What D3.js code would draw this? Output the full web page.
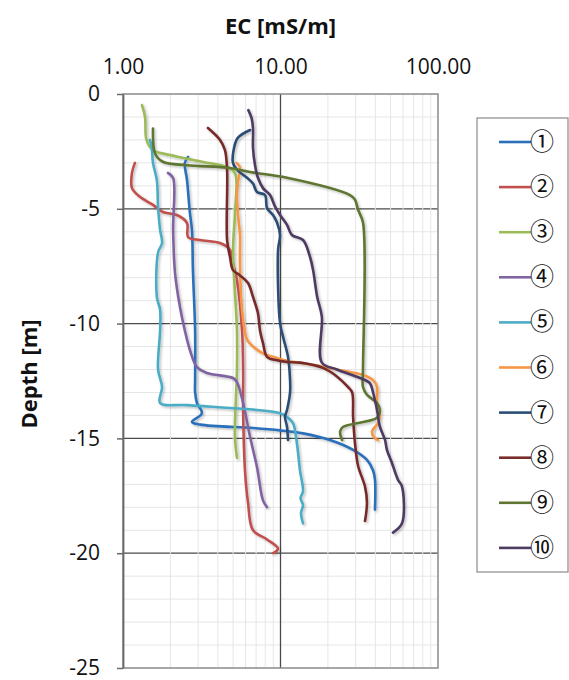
<!DOCTYPE html>
<html>
<head>
<meta charset="utf-8">
<script src="https://cdn.jsdelivr.net/npm/d3@7"></script>
<style>
  body { margin: 0; background: #fff; }
  text { font-family: "Open Sans", "Liberation Sans", sans-serif; fill: #111; }
</style>
</head>
<body>
<div id="chart"></div>
<script>
// EC profiles, each point is [EC mS/m, depth m]
const s1 = [[2.59,-2.74],[2.47,-3.0],[2.55,-3.75],[2.66,-5.18],[2.74,-5.92],[2.78,-7.67],[2.87,-10.3],[2.87,-12.45],[2.87,-13.0],[2.95,-13.46],[3.17,-13.9],[2.74,-14.28],[3.1,-14.4],[6.7,-14.55],[9.9,-14.65],[13.9,-14.78],[20.6,-15.07],[28.9,-15.5],[35.4,-15.94],[38.7,-16.4],[39.8,-16.8],[39.8,-18.1]];
const s2 = [[1.19,-3.0],[1.14,-3.44],[1.14,-4.1],[1.28,-4.48],[1.55,-4.83],[1.79,-5.14],[2.2,-5.27],[2.55,-5.62],[2.59,-6.23],[3.08,-6.36],[4.13,-6.49],[4.78,-6.79],[4.99,-7.36],[5.29,-8.1],[5.7,-10.3],[5.79,-12.0],[5.79,-13.76],[5.95,-16.4],[6.22,-17.8],[6.69,-19.0],[8.21,-19.4],[9.64,-19.8],[8.96,-20.0]];
const s3 = [[1.32,-0.48],[1.38,-1.0],[1.41,-2.0],[1.55,-2.44],[1.99,-2.66],[3.22,-2.96],[4.58,-3.18],[5.14,-3.44],[5.14,-5.2],[5.0,-6.8],[5.29,-10.3],[5.29,-12.0],[5.14,-14.9],[5.29,-15.85]];
const s4 = [[1.93,-3.44],[2.08,-3.66],[2.08,-5.92],[2.14,-7.8],[2.3,-9.28],[2.47,-10.3],[2.66,-11.15],[2.95,-11.9],[3.41,-12.15],[4.99,-12.37],[5.29,-12.55],[5.79,-13.46],[6.41,-14.94],[7.09,-16.25],[7.74,-17.7],[8.21,-18.0]];
const s5 = [[1.48,-2.0],[1.52,-2.3],[1.55,-3.0],[1.64,-3.75],[1.67,-4.92],[1.72,-5.92],[1.77,-6.49],[1.67,-6.9],[1.64,-8.84],[1.72,-9.4],[1.72,-10.3],[1.67,-12.0],[1.77,-12.76],[1.72,-13.46],[2.55,-13.55],[9.93,-13.9],[11.0,-14.07],[12.0,-14.33],[12.7,-15.2],[13.3,-16.4],[13.9,-17.3],[13.4,-17.6],[13.9,-17.9],[13.5,-18.25],[13.9,-18.7]];
const s6 = [[5.27,-3.0],[5.53,-3.2],[5.37,-3.83],[5.29,-4.4],[5.37,-5.27],[5.53,-6.14],[5.53,-7.36],[5.7,-9.4],[6.13,-10.7],[6.69,-11.0],[7.74,-11.3],[9.5,-11.5],[11.5,-11.65],[13.3,-11.7],[22.8,-12.0],[33.4,-12.24],[38.7,-12.46],[41.0,-12.76],[41.0,-13.46],[42.8,-13.9],[41.6,-14.33],[38.1,-14.7],[39.8,-15.0],[41.6,-15.07]];
const s7 = [[6.41,-1.57],[5.37,-1.9],[5.07,-2.35],[4.99,-3.0],[5.29,-3.3],[6.13,-3.65],[6.69,-3.9],[7.09,-4.27],[7.97,-4.4],[8.21,-4.97],[8.96,-5.27],[9.5,-5.6],[9.93,-6.14],[9.65,-6.8],[9.93,-9.97],[10.4,-10.6],[11.16,-11.45],[11.5,-12.45],[11.5,-13.0],[11.0,-13.76],[10.68,-14.06],[11.0,-14.5],[11.16,-15.07]];
const s8 = [[3.46,-1.48],[4.13,-2.0],[4.44,-2.44],[4.58,-3.3],[4.58,-6.36],[4.78,-7.1],[4.99,-7.67],[5.53,-7.9],[6.22,-8.23],[6.69,-8.84],[7.19,-9.54],[7.41,-10.3],[7.74,-10.85],[8.21,-11.45],[9.5,-11.6],[11.0,-11.67],[13.3,-11.7],[18.6,-11.93],[22.8,-12.3],[26.8,-12.76],[28.5,-13.0],[28.9,-14.07],[29.7,-15.2],[31.1,-16.2],[34.4,-17.1],[35.4,-17.8],[34.4,-18.6]];
const s9 = [[1.55,-1.5],[1.6,-2.6],[1.79,-2.95],[2.55,-3.1],[4.78,-3.22],[6.41,-3.4],[11.0,-3.65],[27.6,-4.4],[29.7,-4.6],[31.1,-5.05],[33.4,-5.6],[33.4,-12.0],[33.4,-12.76],[35.4,-13.1],[41.0,-13.46],[42.8,-13.76],[41.0,-14.1],[24.9,-14.5],[23.9,-14.7],[24.6,-15.07]];
const s10 = [[6.25,-0.7],[6.56,-1.06],[6.69,-1.5],[6.69,-2.35],[6.89,-3.1],[7.19,-3.65],[7.74,-4.1],[8.58,-4.4],[9.23,-4.9],[9.93,-5.27],[11.0,-5.7],[11.8,-6.14],[13.9,-6.36],[15.4,-7.1],[16.1,-7.67],[17.1,-8.84],[18.3,-9.7],[18.3,-11.7],[22.8,-12.0],[32.0,-12.37],[37.0,-12.6],[38.7,-13.0],[41.0,-13.76],[42.8,-14.5],[46.1,-15.07],[47.4,-15.5],[51.0,-16.07],[55.7,-16.8],[59.1,-17.1],[59.1,-18.7],[51.8,-19.1]];

const seriesNames = ["①","②","③","④","⑤","⑥","⑦","⑧","⑨","⑩"];
const seriesData = [s1, s2, s3, s4, s5, s6, s7, s8, s9, s10];
const seriesColors = ["#2a6fba","#c0504d","#9bbb59","#8064a2","#4bacc6","#f79646","#2c4d75","#772c2a","#5f7530","#4d3b62"];

const xTicks = [1, 10, 100];
const yTicks = [0, -5, -10, -15, -20, -25];

const width = 569, height = 680;
const plotL = 123, plotR = 438, plotT = 94, plotB = 668;

const svg = d3.select("#chart").append("svg")
  .attr("width", width)
  .attr("height", height);

const defs = svg.append("defs");
const shadow = defs.append("filter").attr("id", "shadow")
  .attr("x", "-10%").attr("y", "-10%").attr("width", "130%").attr("height", "130%");
shadow.append("feDropShadow")
  .attr("dx", 1.5).attr("dy", 1.5).attr("stdDeviation", 1)
  .attr("flood-color", "#000").attr("flood-opacity", 0.25);

const x = d3.scaleLog().domain([1, 100]).range([plotL, plotR]);
const y = d3.scaleLinear().domain([0, -25]).range([plotT, plotB]);

// grid
const minorY = d3.range(-1, -25, -1).filter(d => d % 5 !== 0);
const minorX = [2,3,4,5,6,7,8,9,20,30,40,50,60,70,80,90];

svg.append("g").selectAll("line").data(minorY).join("line")
  .attr("x1", plotL).attr("x2", plotR)
  .attr("y1", d => y(d)).attr("y2", d => y(d))
  .attr("stroke", "#e6e6e6").attr("stroke-width", 1);

svg.append("g").selectAll("line").data([-5, -10, -15, -20]).join("line")
  .attr("x1", plotL).attr("x2", plotR)
  .attr("y1", d => y(d)).attr("y2", d => y(d))
  .attr("stroke", "#4a4a4a").attr("stroke-width", 1.3);

svg.append("g").selectAll("line").data(minorX).join("line")
  .attr("x1", d => x(d)).attr("x2", d => x(d))
  .attr("y1", plotT).attr("y2", plotB)
  .attr("stroke", "#e6e6e6").attr("stroke-width", 1);

svg.append("line")
  .attr("x1", x(10)).attr("x2", x(10))
  .attr("y1", plotT).attr("y2", plotB)
  .attr("stroke", "#4a4a4a").attr("stroke-width", 1.3);

svg.append("rect")
  .attr("x", plotL).attr("y", plotT)
  .attr("width", plotR - plotL).attr("height", plotB - plotT)
  .attr("fill", "none").attr("stroke", "#8a8a8a").attr("stroke-width", 1.5);

// axes
const xAxis = svg.append("g")
  .attr("transform", `translate(0,${plotT})`)
  .call(d3.axisTop(x).tickValues(xTicks).tickFormat(d3.format(".2f")).tickSize(0).tickPadding(20));
xAxis.select(".domain").remove();
xAxis.selectAll("text").attr("font-size", 21).attr("font-family", null);

const yAxis = svg.append("g")
  .attr("transform", `translate(${plotL},0)`)
  .call(d3.axisLeft(y).tickValues(yTicks).tickFormat(d => String(d)).tickSizeInner(6).tickSizeOuter(0).tickPadding(17));
yAxis.select(".domain").attr("stroke", "#6a6a6a").attr("stroke-width", 1.8);
yAxis.selectAll(".tick line").attr("stroke", "#6a6a6a").attr("stroke-width", 1.5);
yAxis.selectAll("text").attr("font-size", 21).attr("font-family", null);

svg.append("text")
  .attr("x", x(10)).attr("y", 34)
  .attr("text-anchor", "middle")
  .attr("font-size", 22).attr("font-weight", "bold")
  .text("EC [mS/m]");

svg.append("text")
  .attr("transform", "translate(37,374) rotate(-90)")
  .attr("text-anchor", "middle")
  .attr("font-size", 22).attr("font-weight", "bold")
  .text("Depth [m]");

// profiles
const line = d3.line()
  .x(d => x(d[0]))
  .y(d => y(d[1]))
  .curve(d3.curveCatmullRom.alpha(0.5));

svg.append("g").attr("filter", "url(#shadow)")
  .selectAll("path").data(seriesData).join("path")
  .attr("d", line)
  .attr("fill", "none")
  .attr("stroke", (d, i) => seriesColors[i])
  .attr("stroke-width", 2.6)
  .attr("stroke-linejoin", "round")
  .attr("stroke-linecap", "round");

// legend
const lg = svg.append("g");
lg.append("rect")
  .attr("x", 477).attr("y", 118).attr("width", 91).attr("height", 454)
  .attr("fill", "#fff").attr("stroke", "#8a8a8a").attr("stroke-width", 1.2);

const item = lg.selectAll("g.item").data(seriesNames).join("g")
  .attr("class", "item")
  .attr("transform", (d, i) => `translate(0,${142 + i * 45.1})`);
item.append("line")
  .attr("x1", 499).attr("x2", 531).attr("y1", 0).attr("y2", 0)
  .attr("stroke", (d, i) => seriesColors[i]).attr("stroke-width", 2.6);
item.append("text")
  .attr("x", 530).attr("y", 8)
  .attr("font-size", 24)
  .style("font-family", "'Noto Sans CJK JP', sans-serif")
  .text(d => d);
</script>
</body>
</html>
